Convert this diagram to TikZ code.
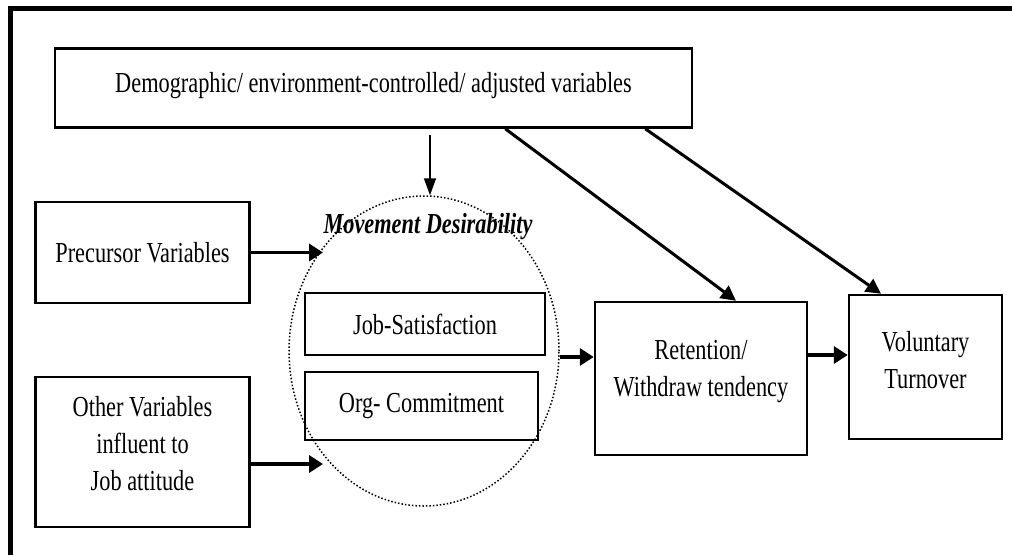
\documentclass[tikz,border=0pt]{standalone}
\usepackage{fontspec}
\setmainfont{Liberation Serif}[FakeStretch=0.77]
\usetikzlibrary{arrows.meta,shapes.geometric}

\begin{document}
\begin{tikzpicture}[x=1pt,y=-1pt]
\tikzstyle{box}=[draw, line width=2.5pt, inner sep=0pt, align=center, font=\fontsize{29}{37}\selectfont]
\tikzstyle{arr}=[line width=3.5pt, -{Triangle[length=14pt,width=17pt]}]
\tikzstyle{thinarr}=[line width=1.5pt, -{Triangle[length=17pt,width=12pt]}]
\tikzstyle{diagarr}=[line width=3pt, -{Triangle[length=15pt,width=15pt]}]

\useasboundingbox (0,0) rectangle (1012,555);
\draw[line width=5.5pt] (10.5,555) -- (10.5,8.5) -- (1012,8.5);

\draw (373.5,88) node[box, minimum width=637pt, minimum height=79pt, text depth=12pt] (demo) {Demographic/ environment-controlled/ adjusted variables};
\draw (142.5,252.5) node[box, minimum width=214pt, minimum height=101pt] (prec) {Precursor Variables};
\draw (142.5,452) node[box, minimum width=214pt, minimum height=150pt, text depth=18pt] (other) {Other Variables\\influent to\\Job attitude};
\draw (424,351) node[ellipse, draw, dotted, line width=1.5pt, inner sep=0pt, minimum width=270pt, minimum height=310pt] (md) {};
\draw (428,227) node[font=\fontsize{29}{37}\selectfont\bfseries\itshape] (mdlabel) {Movement Desirability};
\draw (425,324) node[box, minimum width=240pt, minimum height=62pt] (jobsat) {Job-Satisfaction};
\draw (421.5,406) node[box, minimum width=233pt, minimum height=68pt] (orgcom) {Org- Commitment};
\draw (701,378.5) node[box, minimum width=212pt, minimum height=153pt, text depth=20pt] (ret) {Retention/\\Withdraw tendency};
\draw (925.5,367) node[box, minimum width=153pt, minimum height=144pt, text depth=14pt] (vol) {Voluntary\\Turnover};

\coordinate (mdpre) at (323,252.5);
\coordinate (mdoth) at (323,464);

\draw ([xshift=56.5pt,yshift=-6pt]demo.south) edge[thinarr] ([xshift=6pt]md.north);
\draw ([xshift=-188pt]demo.south east) edge[diagarr] ([xshift=35pt]ret.north);
\draw ([xshift=-48pt]demo.south east) edge[diagarr] ([xshift=-44.5pt]vol.north);
\draw (prec.east) edge[arr] (mdpre);
\draw ([yshift=-12pt]other.east) edge[arr] (mdoth);
\draw ([yshift=-6pt]md.east) edge[arr] ([yshift=-6pt]md.east -| ret.west);
\draw ([yshift=23.5pt]ret.east) edge[arr] ([yshift=23.5pt]ret.east -| vol.west);
\end{tikzpicture}
\end{document}
